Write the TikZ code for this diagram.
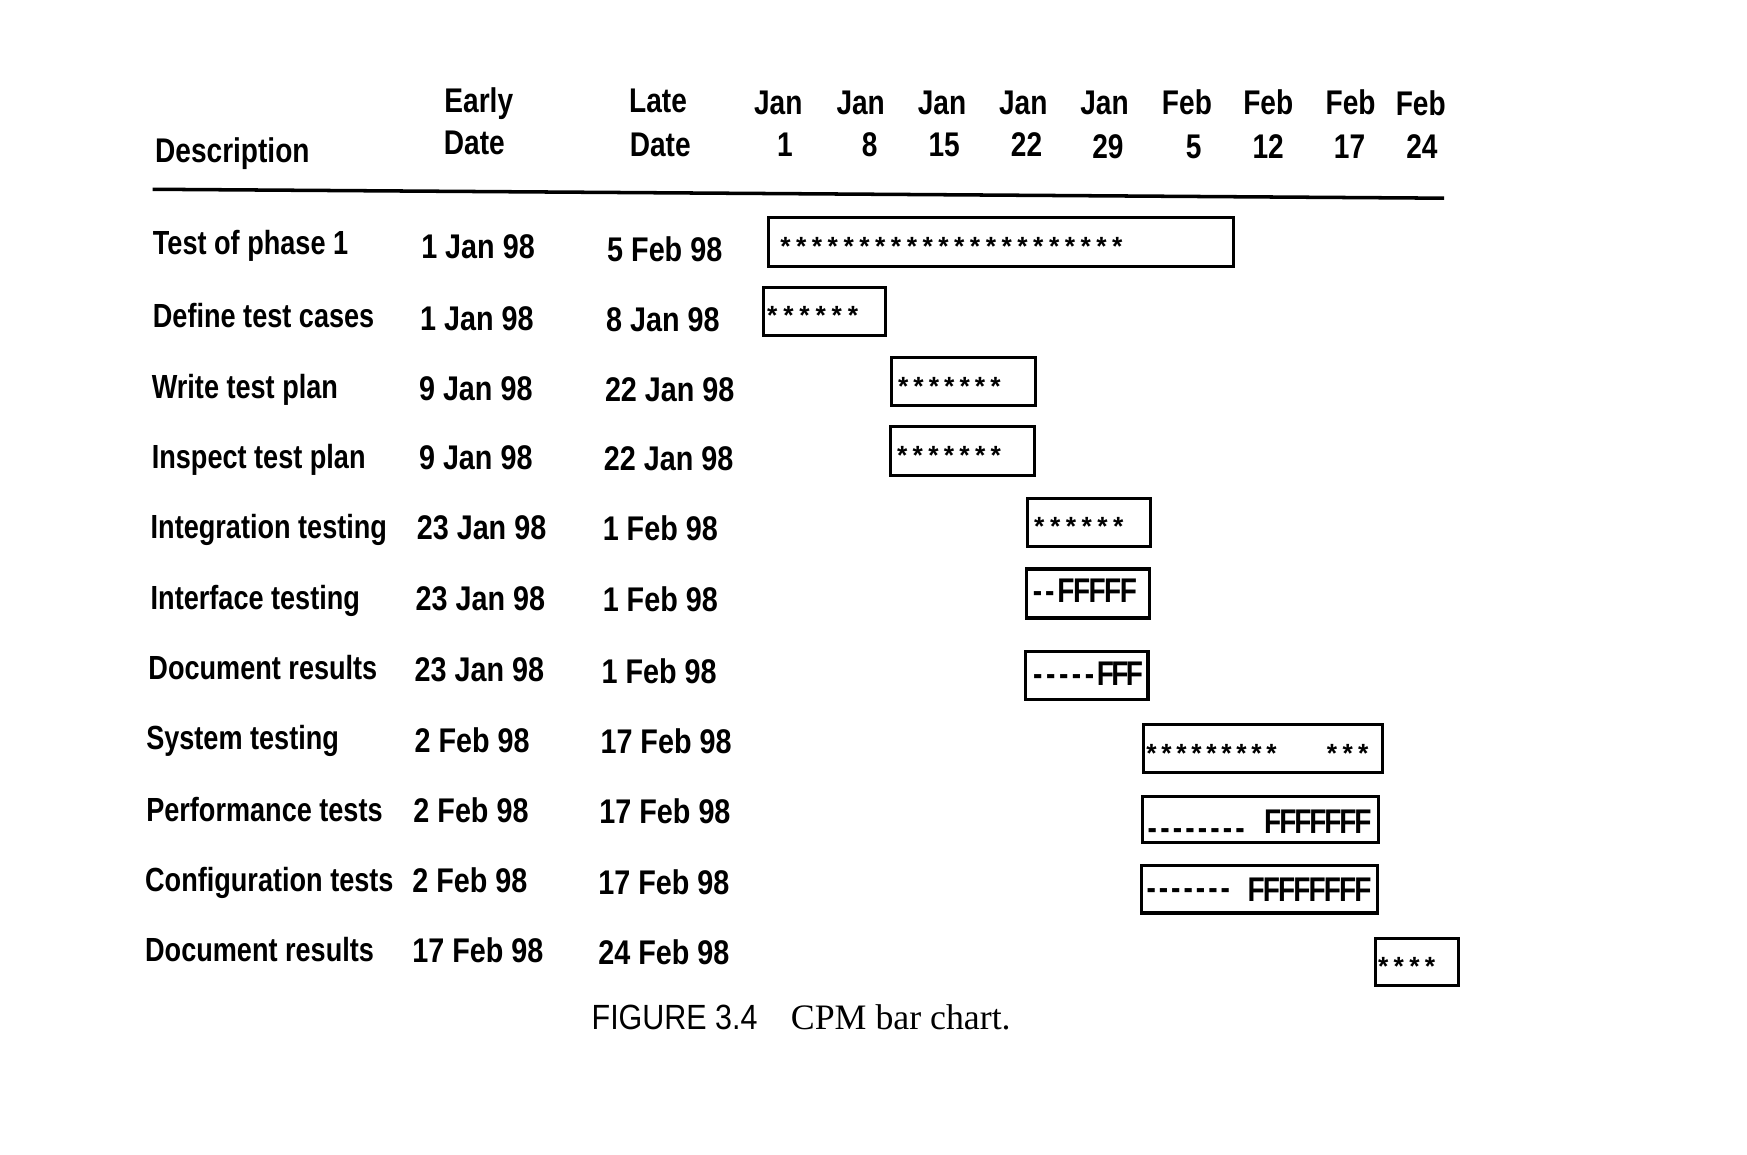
\documentclass[tikz,border=0pt]{standalone}
\usepackage{fontspec}
\newfontfamily\labfnt{Liberation Sans Bold}[FakeStretch=0.81]
\newfontfamily\hdfnt{Liberation Sans Bold}[FakeStretch=0.82]
\newfontfamily\datefnt{Liberation Sans Bold}[FakeStretch=0.84]
\newfontfamily\starfnt{Liberation Mono Bold}
\newfontfamily\capsans{Liberation Sans}[FakeStretch=0.87]
\newfontfamily\capserif{Liberation Serif}
\newcommand\rpt[3]{\foreach \i in {1,...,#1}{\makebox[#2][c]{#3}}}
\tikzset{
  lab/.style={anchor=base west, inner sep=0pt, font=\labfnt\fontsize{17.1}{20}\selectfont},
  dt/.style={anchor=base west, inner sep=0pt, font=\datefnt\fontsize{17.5}{20}\selectfont},
  hd/.style={anchor=base, inner sep=0pt, font=\hdfnt\fontsize{17.5}{20}\selectfont},
  stars/.style={anchor=base west, inner sep=0pt, font=\starfnt\fontsize{13.5}{15}\selectfont},
  barbox/.style={draw=black, line width=1.6pt},
  rule/.style={draw=black, line width=1.8pt},
  capa/.style={anchor=base west, inner sep=0pt, font=\capsans\fontsize{17.9}{20}\selectfont},
  capb/.style={anchor=base west, inner sep=0pt, font=\capserif\fontsize{18.3}{20}\selectfont}
}
\begin{document}
\begin{tikzpicture}[x=0.02cm, y=-0.02cm]
\useasboundingbox (0,0) rectangle (1569,1037);
% header
\node[anchor=base west, inner sep=0pt, font=\hdfnt\fontsize{17.5}{20}\selectfont] (desc) at (139,146) {Description};
\node[hd] (early1) at (430,101) {Early};
\node[hd] (early2) at (426,139) {Date};
\node[hd] (late1) at (591,101) {Late};
\node[hd] (late2) at (593,141) {Date};
\node[hd] (m1) at (699,103) {Jan};  \node[hd] (d1) at (705,141) {1};
\node[hd] (m2) at (773,103) {Jan};  \node[hd] (d2) at (781,141) {8};
\node[hd] (m3) at (846,103) {Jan};  \node[hd] (d3) at (848,141) {15};
\node[hd] (m4) at (919,103) {Jan};  \node[hd] (d4) at (922,141) {22};
\node[hd] (m5) at (992,103) {Jan};  \node[hd] (d5) at (995,142) {29};
\node[hd] (m6) at (1066,103) {Feb}; \node[hd] (d6) at (1072,142) {5};
\node[hd] (m7) at (1139,103) {Feb}; \node[hd] (d7) at (1139,142) {12};
\node[hd] (m8) at (1213,103) {Feb}; \node[hd] (d8) at (1212,142) {17};
\node[hd] (m9) at (1276,104) {Feb}; \node[hd] (d9) at (1277,142) {24};
\coordinate (ruleL) at (137,170);
\coordinate (ruleR) at (1297,178);
\draw[rule] (ruleL) -- (ruleR);
% descriptions
\node[lab] (t1) at (137,228.5) {Test of phase 1};
\node[lab] (t2) at (137,294.5) {Define test cases};
\node[lab] (t3) at (136,357.5) {Write test plan};
\node[lab] (t4) at (136,420.5) {Inspect test plan};
\node[lab] (t5) at (135,483.5) {Integration testing};
\node[lab] (t6) at (135,547.5) {Interface testing};
\node[lab] (t7) at (133,610.5) {Document results};
\node[lab] (t8) at (131,673.5) {System testing};
\node[lab] (t9) at (131,737.5) {Performance tests};
\node[lab] (t10) at (130,800.5) {Configuration tests};
\node[lab] (t11) at (130,863.5) {Document results};
% early dates
\node[dt] (e1) at (378,232.5) {1 Jan 98};
\node[dt] (e2) at (377,296.5) {1 Jan 98};
\node[dt] (e3) at (376,359.5) {9 Jan 98};
\node[dt] (e4) at (376,421.5) {9 Jan 98};
\node[dt] (e5) at (374,484.5) {23 Jan 98};
\node[dt] (e6) at (373,548.5) {23 Jan 98};
\node[dt] (e7) at (372,612.5) {23 Jan 98};
\node[dt] (e8) at (372,675.5) {2 Feb 98};
\node[dt] (e9) at (371,738.5) {2 Feb 98};
\node[dt] (e10) at (370,801.5) {2 Feb 98};
\node[dt] (e11) at (370,864.5) {17 Feb 98};
% late dates
\node[dt] (l1) at (545,234.5) {5 Feb 98};
\node[dt] (l2) at (544,297.5) {8 Jan 98};
\node[dt] (l3) at (543,360.5) {22 Jan 98};
\node[dt] (l4) at (542,422.5) {22 Jan 98};
\node[dt] (l5) at (541,485.5) {1 Feb 98};
\node[dt] (l6) at (541,549.5) {1 Feb 98};
\node[dt] (l7) at (540,613.5) {1 Feb 98};
\node[dt] (l8) at (539,676.5) {17 Feb 98};
\node[dt] (l9) at (538,739.5) {17 Feb 98};
\node[dt] (l10) at (537,803.5) {17 Feb 98};
\node[dt] (l11) at (537,866.5) {24 Feb 98};
% bars
\draw[barbox] (690,195) rectangle (1108,239);
\draw[barbox] (686,258) rectangle (795,301);
\draw[barbox] (801,321) rectangle (930,364);
\draw[barbox] (800,383) rectangle (929,427);
\draw[barbox] (923,448) rectangle (1033,491);
\draw[barbox] (922,511) rectangle (1032,555);
\draw[barbox] (921,585) rectangle (1031,628);
\draw[barbox] (1027,651) rectangle (1242,694);
\draw[barbox] (1026,715) rectangle (1238,757);
\draw[barbox] (1025,777) rectangle (1237,820);
\draw[barbox] (1235,843) rectangle (1310,885);
% bar contents
\node[stars] (s1) at (698,230) {\rpt{22}{0.284cm}{*}};
\node[stars] (s2) at (686,292) {\rpt{6}{0.29cm}{*}};
\node[stars] (s3) at (804,356) {\rpt{7}{0.276cm}{*}};
\node[stars] (s4) at (803,418) {\rpt{7}{0.28cm}{*}};
\node[stars] (s5) at (926,482) {\rpt{6}{0.284cm}{*}};
\node[hd, anchor=base west] (f6d) at (926,541.5) {\rpt{2}{0.22cm}{-}};
\node[hd, anchor=base west] (f6f) at (950,541.5) {\rpt{5}{0.28cm}{F}};
\node[hd, anchor=base west] (f7d) at (926,616) {\rpt{5}{0.232cm}{-}};
\node[hd, anchor=base west] (f7f) at (986,616) {\rpt{3}{0.26cm}{F}};
\node[stars] (s8a) at (1027,686) {\rpt{9}{0.27cm}{*}};
\node[stars] (s8b) at (1189,686) {\rpt{3}{0.28cm}{*}};
\node[hd, anchor=base west] (f9d) at (1029,754) {\rpt{8}{0.225cm}{-}};
\node[hd, anchor=base west] (f9f) at (1136,749) {\rpt{7}{0.27cm}{F}};
\node[hd, anchor=base west] (f10d) at (1028,808) {\rpt{7}{0.222cm}{-}};
\node[hd, anchor=base west] (f10f) at (1121,810) {\rpt{8}{0.274cm}{F}};
\node[stars] (s11) at (1235,877) {\rpt{4}{0.28cm}{*}};
% caption
\node[capa] (figno) at (531,925) {FIGURE 3.4};
\node[capb] (figtxt) at (710,925) {CPM bar chart.};
\end{tikzpicture}
\end{document}
